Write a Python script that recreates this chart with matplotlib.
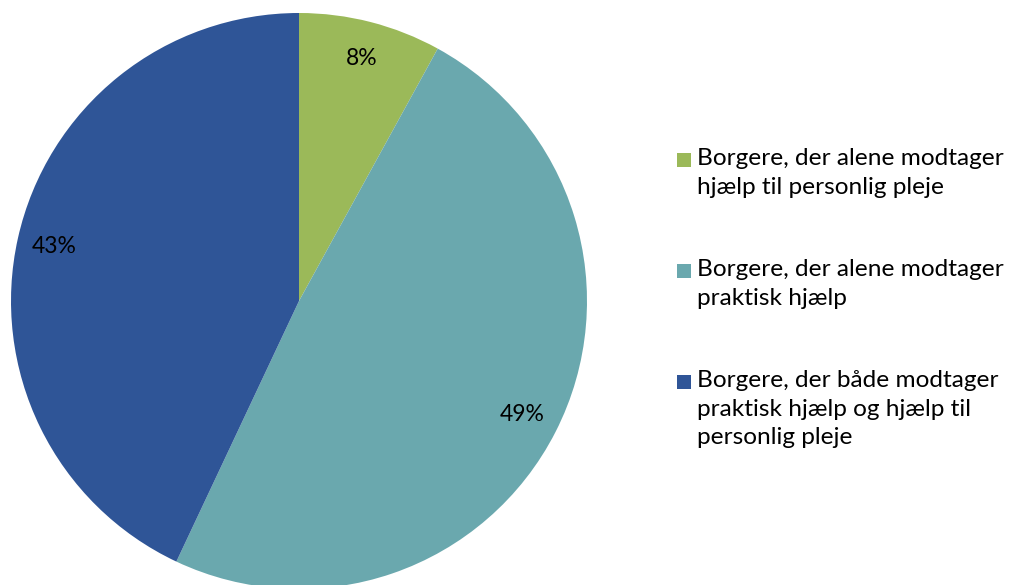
import matplotlib
matplotlib.use("Agg")
import matplotlib.pyplot as plt
from matplotlib.patches import Rectangle

# --- data ---
labels = [
    "Borgere, der alene modtager\nhjælp til personlig pleje",
    "Borgere, der alene modtager\npraktisk hjælp",
    "Borgere, der både modtager\npraktisk hjælp og hjælp til\npersonlig pleje",
]
shares = [8, 49, 43]
colors = ["#9BB959", "#6AA8AE", "#2F5597"]

plt.rcParams["font.family"] = ["Lato", "DejaVu Sans"]

W, H = 1014, 585
fig = plt.figure(figsize=(W / 100, H / 100), dpi=100)

# pie axes: centre ~(299, 301) px, radius ~288 px
r = 288
cx, cy = 299, 301
ax = fig.add_axes([(cx - r) / W, (H - cy - r) / H, 2 * r / W, 2 * r / H])
ax.pie(
    shares,
    colors=colors,
    startangle=90,
    counterclock=False,
    autopct=lambda p: f"{p:.0f}%",
    pctdistance=0.87,
    radius=1,
    textprops={"fontsize": 16.5, "color": "black"},
    wedgeprops={"linewidth": 0},
)
ax.set_xlim(-1, 1)
ax.set_ylim(-1, 1)
ax.set_aspect("equal")
ax.axis("off")

# legend drawn by hand so the square sits on the first text line
fs = 17.6
line_h = 28
gap = 55
y = 162
for lab, col in zip(labels, colors):
    fig.text(697 / W, 1 - (y - 14) / H, lab, fontsize=fs, va="top", ha="left",
             linespacing=1.45)
    fig.patches.append(Rectangle((677 / W, 1 - (y + 5) / H), 14 / W, 14 / H,
                                 transform=fig.transFigure, facecolor=col,
                                 edgecolor="none"))
    n = lab.count("\n") + 1
    y += n * line_h + gap

fig.savefig("out.png", dpi=100)
